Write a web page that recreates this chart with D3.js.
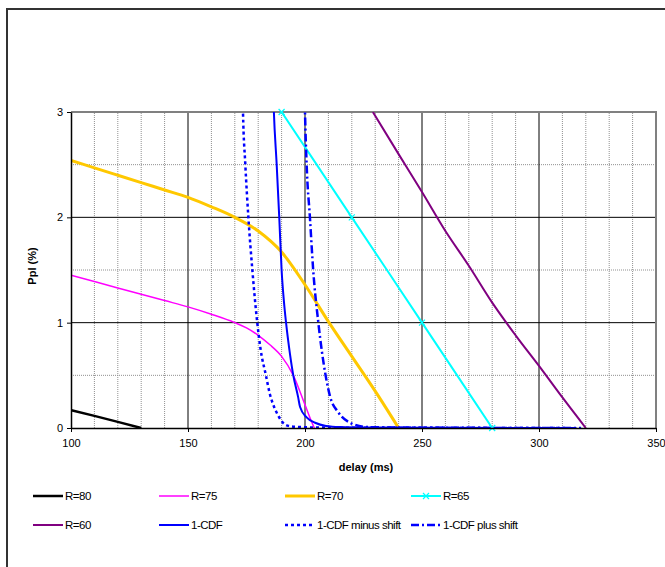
<!DOCTYPE html>
<html>
<head>
<meta charset="utf-8">
<script src="https://cdn.jsdelivr.net/npm/d3@7"></script>
<style>
  body { margin: 0; background: #fff; }
  text { font-family: "Liberation Sans", Arial, sans-serif; }
</style>
</head>
<body>
<div id="chart"></div>
<script>
var width = 665;
var height = 567;

// series data (delay in ms, Ppl in %)
var r80X = [100, 110, 120, 130];
var r80Y = [0.17, 0.115, 0.058, 0];

var r75X = [100, 110, 120, 130, 140, 150, 160, 170, 175, 180, 185, 190, 195, 200, 203, 204];
var r75Y = [1.45, 1.39, 1.33, 1.27, 1.21, 1.15, 1.08, 1.0, 0.95, 0.88, 0.79, 0.68, 0.5, 0.22, 0.05, 0];

var r70X = [100, 110, 120, 130, 140, 150, 160, 170, 180, 190, 200, 210, 220, 230, 240];
var r70Y = [2.54, 2.47, 2.4, 2.33, 2.26, 2.19, 2.1, 2.0, 1.87, 1.67, 1.36, 1.01, 0.68, 0.35, 0];

var r65X = [190, 220, 250, 280];
var r65Y = [3, 2, 1, 0];

var r60X = [229, 240, 250, 260, 270, 280, 290, 300, 310, 320];
var r60Y = [3, 2.6, 2.24, 1.87, 1.54, 1.19, 0.88, 0.59, 0.29, 0];

var cdfX = [186.4, 186.7, 187.9, 189, 190, 191, 191.9, 193.6, 195, 197, 197.9, 200.7, 204.3, 209, 215, 230, 260, 316];
var cdfY = [3.2, 3, 2.5, 2, 1.5, 1.2, 1, 0.7, 0.5, 0.3, 0.2, 0.1, 0.05, 0.02, 0.01, 0.005, 0.002, 0];

var minusX = [173.4, 173.5, 174.5, 175.8, 177.5, 179.6, 181, 183.3, 185, 186.8, 188.5, 190.6, 193, 197, 205, 230, 270, 312];
var minusY = [3.1, 3, 2.5, 2, 1.5, 1, 0.75, 0.5, 0.32, 0.2, 0.12, 0.05, 0.02, 0.01, 0.005, 0.002, 0.001, 0];

var plusX = [199.9, 200, 200.7, 202.1, 203.5, 205.7, 208.8, 210.7, 214.2, 219.2, 226, 240, 280, 318];
var plusY = [3.1, 3, 2.5, 2, 1.5, 1, 0.5, 0.3, 0.15, 0.05, 0.01, 0.004, 0.001, 0];

var xTicks = [100, 150, 200, 250, 300, 350];
var yTicks = [0, 1, 2, 3];

// series styling
var series = [
  { name: "R=80", xs: r80X, ys: r80Y, color: "#000000", w: 2.5, dash: null },
  { name: "R=75", xs: r75X, ys: r75Y, color: "#FF00FF", w: 1.5, dash: null },
  { name: "R=70", xs: r70X, ys: r70Y, color: "#FFC800", w: 3, dash: null },
  { name: "R=65", xs: r65X, ys: r65Y, color: "#00FFFF", w: 2, dash: null, cross: true },
  { name: "R=60", xs: r60X, ys: r60Y, color: "#800080", w: 2, dash: null },
  { name: "1-CDF", xs: cdfX, ys: cdfY, color: "#0000FF", w: 2, dash: null },
  { name: "1-CDF minus shift", xs: minusX, ys: minusY, color: "#0000FF", w: 2.5, dash: "3,3" },
  { name: "1-CDF plus shift", xs: plusX, ys: plusY, color: "#0000FF", w: 2.5, dash: "8,3,2,3" }
];

var svg = d3.select("#chart")
  .append("svg")
  .attr("width", width)
  .attr("height", height);

// outer frame (only top and left edges show)
svg.append("path")
  .attr("d", "M7," + height + "V9H" + width)
  .attr("fill", "none")
  .attr("stroke", "#333")
  .attr("stroke-width", 2);

var x = d3.scaleLinear().domain([100, 350]).range([71, 656]);
var y = d3.scaleLinear().domain([0, 3]).range([428, 112]);

svg.append("clipPath")
  .attr("id", "plot")
  .append("rect")
  .attr("x", x(100)).attr("y", y(3))
  .attr("width", x(350) - x(100)).attr("height", y(0) - y(3));

// minor grid lines (dotted grey)
var grid = svg.append("g");
grid.selectAll(".vminor")
  .data(d3.range(110, 350, 10).filter(function(d) { return d % 50 != 0; }))
  .enter().append("line")
  .attr("x1", x).attr("x2", x)
  .attr("y1", y(0)).attr("y2", y(3))
  .attr("stroke", "#909090")
  .attr("stroke-dasharray", "1,1");
grid.selectAll(".hminor")
  .data([0.5, 1.5, 2.5])
  .enter().append("line")
  .attr("x1", x(100)).attr("x2", x(350))
  .attr("y1", y).attr("y2", y)
  .attr("stroke", "#909090")
  .attr("stroke-dasharray", "1,1");

// major grid lines
grid.selectAll(".vmajor")
  .data([150, 200, 250, 300])
  .enter().append("line")
  .attr("x1", x).attr("x2", x)
  .attr("y1", y(0)).attr("y2", y(3))
  .attr("stroke", "#000");
grid.selectAll(".hmajor")
  .data([1, 2])
  .enter().append("line")
  .attr("x1", x(100)).attr("x2", x(350))
  .attr("y1", y).attr("y2", y)
  .attr("stroke", "#000");

// plot area border top / right
grid.append("path")
  .attr("d", "M" + x(100) + "," + y(3) + "H" + x(350) + "V" + y(0))
  .attr("fill", "none")
  .attr("stroke", "#808080")
  .attr("stroke-width", 2);

// the curves
var line = d3.line()
  .curve(d3.curveMonotoneX)
  .x(function(d) { return x(d[0]); })
  .y(function(d) { return y(d[1]); });

var curves = svg.append("g").attr("clip-path", "url(#plot)");
series.forEach(function(s) {
  var pts = s.xs.map(function(v, i) { return [v, s.ys[i]]; });
  curves.append("path")
    .datum(pts)
    .attr("d", line)
    .attr("fill", "none")
    .attr("stroke", s.color)
    .attr("stroke-width", s.w)
    .attr("stroke-dasharray", s.dash);
  if (s.cross) {
    svg.selectAll(null)
      .data(pts)
      .enter().append("path")
      .attr("d", function(d) {
        var cx = x(d[0]), cy = y(d[1]);
        return "M" + (cx - 3) + "," + (cy - 3) + "L" + (cx + 3) + "," + (cy + 3) +
               "M" + (cx - 3) + "," + (cy + 3) + "L" + (cx + 3) + "," + (cy - 3);
      })
      .attr("stroke", s.color)
      .attr("stroke-width", 1.2);
  }
});

// axes
var xAxis = svg.append("g")
  .attr("transform", "translate(0," + y(0) + ")")
  .call(d3.axisBottom(x).tickValues(xTicks).tickSize(4).tickSizeOuter(0));
var yAxis = svg.append("g")
  .attr("transform", "translate(" + x(100) + ",0)")
  .call(d3.axisLeft(y).tickValues(yTicks).tickFormat(d3.format("d")).tickSize(4).tickSizeOuter(0));

[xAxis, yAxis].forEach(function(a) {
  a.select(".domain").attr("stroke", "#000").attr("stroke-width", 1.5);
  a.selectAll(".tick line").attr("stroke", "#000");
  a.selectAll(".tick text")
    .attr("fill", "#000")
    .style("font-size", "11px")
    .style("font-family", "'Liberation Sans', Arial, sans-serif");
});
xAxis.selectAll(".tick text").attr("dy", "1.1em");
yAxis.selectAll(".tick text").attr("x", -8);

// axis titles
svg.append("text")
  .attr("x", 366).attr("y", 471)
  .attr("text-anchor", "middle")
  .style("font-size", "11px").style("font-weight", "bold")
  .text("delay (ms)");
svg.append("text")
  .attr("transform", "translate(36,266) rotate(-90)")
  .attr("text-anchor", "middle")
  .style("font-size", "11px").style("font-weight", "bold")
  .text("Ppl (%)");

// legend, 4 per row
var legend = svg.append("g");
series.forEach(function(s, i) {
  var lx = 33 + (i % 4) * 126;
  var ly = i < 4 ? 496 : 525;
  legend.append("line")
    .attr("x1", lx).attr("x2", lx + 30)
    .attr("y1", ly).attr("y2", ly)
    .attr("stroke", s.color)
    .attr("stroke-width", s.w)
    .attr("stroke-dasharray", s.dash);
  if (s.cross) {
    legend.append("path")
      .attr("d", "M" + (lx + 12) + "," + (ly - 3) + "l6,6M" + (lx + 12) + "," + (ly + 3) + "l6,-6")
      .attr("stroke", s.color)
      .attr("stroke-width", 1.2);
  }
  legend.append("text")
    .attr("x", lx + 32).attr("y", ly + 4)
    .style("font-size", "11.5px")
    .style("letter-spacing", "-0.5px")
    .text(s.name);
});
</script>
</body>
</html>
